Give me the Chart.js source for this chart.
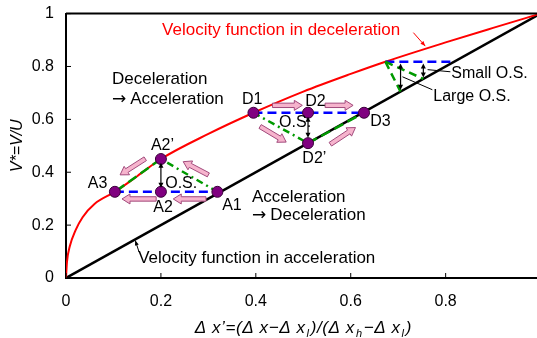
<!DOCTYPE html>
<html>
<head>
<meta charset="utf-8">
<script src="https://cdn.jsdelivr.net/npm/chart.js@4.4.1/dist/chart.umd.min.js"></script>
<style>
html, body { margin: 0; padding: 0; background: #fff; overflow: hidden; }
/* the plot runs past the right edge of the window, as in the original */
canvas { display: block; margin-top: -8px; }
</style>
</head>
<body>
<canvas id="chart" width="559" height="346"></canvas>
<script>
// Velocity function in acceleration (straight line)
const accelX = [0, 1];
const accelY = [0, 1];

// Velocity function in deceleration
const decelX = [0, 0.002, 0.008, 0.02, 0.035, 0.06, 0.103, 0.15, 0.2, 0.3, 0.395, 0.5, 0.6, 0.673, 0.8, 0.9, 1];
const decelY = [0, 0.06, 0.12, 0.18, 0.23, 0.28, 0.326, 0.385, 0.45, 0.545, 0.625, 0.705, 0.772, 0.818, 0.891, 0.946, 1];

// Acceleration -> deceleration cycle: A1, A2, A3, A2'
const aX = [0.319, 0.2, 0.103, 0.2];
const aY = [0.326, 0.326, 0.326, 0.45];

// Deceleration -> acceleration cycle: D1, D2, D3, D2'
const dX = [0.395, 0.51, 0.628, 0.51];
const dY = [0.625, 0.625, 0.625, 0.51];

// Overshoot sketch top right: start on curve, end of level line, large O.S., small O.S.
const osX = [0.673, 0.816, 0.705, 0.753];
const osY = [0.818, 0.818, 0.705, 0.753];

const tickValues = [0, 0.2, 0.4, 0.6, 0.8, 1];

// Pink direction arrows, [x1, y1, x2, y2] in data units
const flowArrows = [
    [0.435, 0.653, 0.498, 0.653],
    [0.546, 0.653, 0.605, 0.653],
    [0.409, 0.573, 0.464, 0.514],
    [0.557, 0.506, 0.610, 0.569],
    [0.295, 0.299, 0.226, 0.299],
    [0.190, 0.299, 0.118, 0.299],
    [0.300, 0.390, 0.247, 0.440],
    [0.167, 0.451, 0.114, 0.390]
];

// Overshoot double arrows, [x, yTop, yBottom]
const osArrows = [
    [0.2, 0.436, 0.341],
    [0.51, 0.61, 0.53],
    [0.705, 0.811, 0.712],
    [0.753, 0.811, 0.758]
];

// Leader lines, [x1, y1, x2, y2, arrowhead]
const leaders = [
    [0.732, 0.928, 0.757, 0.877, true],
    [0.154, 0.098, 0.146, 0.142, true],
    [0.810, 0.780, 0.762, 0.788, false],
    [0.772, 0.712, 0.709, 0.761, false]
];

// Text notes: text, x, y (baseline, left), colour, size
const notes = [
    ['Velocity function in deceleration', 0.2025, 0.92, '#ff0000', 17],
    ['Deceleration', 0.097, 0.733, '#000', 17],
    ['\u2192 Acceleration', 0.097, 0.659, '#000', 17],
    ['D1', 0.371, 0.659, '#000', 16],
    ['D2', 0.504, 0.652, '#000', 16],
    ['D3', 0.641, 0.576, '#000', 16],
    ['O.S.', 0.449, 0.572, '#000', 16],
    ['D2\u2019', 0.498, 0.436, '#000', 16],
    ['Small O.S.', 0.812, 0.758, '#000', 16],
    ['Large O.S.', 0.774, 0.670, '#000', 16],
    ['A2\u2019', 0.179, 0.485, '#000', 16],
    ['A3', 0.046, 0.341, '#000', 16],
    ['O.S.', 0.209, 0.341, '#000', 16],
    ['A2', 0.184, 0.25, '#000', 16],
    ['A1', 0.329, 0.258, '#000', 16],
    ['Acceleration', 0.392, 0.288, '#000', 17],
    ['\u2192 Deceleration', 0.392, 0.220, '#000', 17],
    ['Velocity function in acceleration', 0.152, 0.057, '#000', 17]
];

const xTitleParts = [
    ['\u0394 x\u2019=(\u0394 x\u2212\u0394 x', false], ['l', true],
    [')/(\u0394 x', false], ['h', true],
    ['\u2212\u0394 x', false], ['l', true], [')', false]
];

const FONT = "'Liberation Sans', Arial, sans-serif";
const BLUE = '#0000ff';
const GREEN = '#009a00';

const pts = (xs, ys, idx) => idx.map(i => ({ x: xs[i], y: ys[i] }));

function segment(data, color, dash, order) {
    return {
        data: data,
        showLine: true,
        borderColor: color,
        borderWidth: 2.5,
        borderDash: dash,
        pointRadius: 0,
        order: order
    };
}

function arrowHead(ctx, x, y, ang, len, half) {
    ctx.beginPath();
    ctx.moveTo(x, y);
    ctx.lineTo(x - len * Math.cos(ang) + half * Math.sin(ang), y - len * Math.sin(ang) - half * Math.cos(ang));
    ctx.lineTo(x - len * Math.cos(ang) - half * Math.sin(ang), y - len * Math.sin(ang) + half * Math.cos(ang));
    ctx.closePath();
    ctx.fill();
}

function blockArrow(ctx, x1, y1, x2, y2) {
    const len = Math.hypot(x2 - x1, y2 - y1);
    const ux = (x2 - x1) / len, uy = (y2 - y1) / len;
    const nx = -uy, ny = ux;
    const sw = 2.2, hw = 5, hl = 8;
    const bx = x2 - ux * hl, by = y2 - uy * hl;
    ctx.beginPath();
    ctx.moveTo(x1 + nx * sw, y1 + ny * sw);
    ctx.lineTo(bx + nx * sw, by + ny * sw);
    ctx.lineTo(bx + nx * hw, by + ny * hw);
    ctx.lineTo(x2, y2);
    ctx.lineTo(bx - nx * hw, by - ny * hw);
    ctx.lineTo(bx - nx * sw, by - ny * sw);
    ctx.lineTo(x1 - nx * sw, y1 - ny * sw);
    ctx.closePath();
    ctx.fillStyle = '#f6b4cd';
    ctx.fill();
    ctx.strokeStyle = '#a24a7c';
    ctx.lineWidth = 1;
    ctx.stroke();
}

const extras = {
    id: 'extras',
    afterDatasetsDraw(chart) {
        const { ctx, chartArea, scales: { x, y } } = chart;
        ctx.save();

        // top frame line
        ctx.strokeStyle = '#000';
        ctx.lineWidth = 2;
        ctx.beginPath();
        ctx.moveTo(chartArea.left, chartArea.top);
        ctx.lineTo(chartArea.right, chartArea.top);
        ctx.stroke();

        // inner ticks
        ctx.lineWidth = 1;
        tickValues.forEach(v => {
            const px = x.getPixelForValue(v);
            ctx.beginPath();
            ctx.moveTo(px, chartArea.bottom);
            ctx.lineTo(px, chartArea.bottom - 5);
            ctx.stroke();
            const py = y.getPixelForValue(v);
            ctx.beginPath();
            ctx.moveTo(chartArea.left, py);
            ctx.lineTo(chartArea.left + 5, py);
            ctx.stroke();
        });

        // pink flow arrows
        flowArrows.forEach(a => {
            blockArrow(ctx, x.getPixelForValue(a[0]), y.getPixelForValue(a[1]),
                x.getPixelForValue(a[2]), y.getPixelForValue(a[3]));
        });

        // overshoot double arrows
        ctx.strokeStyle = '#000';
        ctx.fillStyle = '#000';
        osArrows.forEach(a => {
            const px = x.getPixelForValue(a[0]);
            const top = y.getPixelForValue(a[1]);
            const bot = y.getPixelForValue(a[2]);
            ctx.lineWidth = 1.2;
            ctx.beginPath();
            ctx.moveTo(px, top + 3);
            ctx.lineTo(px, bot - 3);
            ctx.stroke();
            arrowHead(ctx, px, top, -Math.PI / 2, 5, 2.5);
            arrowHead(ctx, px, bot, Math.PI / 2, 5, 2.5);
        });

        // leader lines
        leaders.forEach((l, i) => {
            const x1 = x.getPixelForValue(l[0]), y1 = y.getPixelForValue(l[1]);
            const x2 = x.getPixelForValue(l[2]), y2 = y.getPixelForValue(l[3]);
            ctx.strokeStyle = i === 0 ? '#ff0000' : '#000';
            ctx.fillStyle = ctx.strokeStyle;
            ctx.lineWidth = 1;
            ctx.beginPath();
            ctx.moveTo(x1, y1);
            ctx.lineTo(x2, y2);
            ctx.stroke();
            if (l[4]) arrowHead(ctx, x2, y2, Math.atan2(y2 - y1, x2 - x1), 5, 2);
        });

        // text notes (arrow glyph drawn in DejaVu for a full-size arrow)
        ctx.textBaseline = 'alphabetic';
        ctx.textAlign = 'left';
        notes.forEach(n => {
            let px = x.getPixelForValue(n[1]);
            const py = y.getPixelForValue(n[2]);
            let text = n[0];
            ctx.fillStyle = n[3];
            if (text.startsWith('\u2192')) {
                ctx.font = n[4] + "px 'DejaVu Sans'";
                ctx.fillText('\u2192', px, py);
                px += ctx.measureText('\u2192').width + 4;
                text = text.slice(2);
            }
            ctx.font = n[4] + 'px ' + FONT;
            ctx.fillText(text, px, py);
        });

        // x axis title with subscripts
        const main = 'italic 17px ' + FONT;
        const sub = 'italic 11px ' + FONT;
        ctx.letterSpacing = '0.6px';
        let total = 0;
        xTitleParts.forEach(p => {
            ctx.font = p[1] ? sub : main;
            total += ctx.measureText(p[0]).width + (p[1] ? 2 : 0);
        });
        let cx = (chartArea.left + chartArea.right) / 2 - total / 2;
        const base = chartArea.bottom + 55;
        ctx.fillStyle = '#000';
        xTitleParts.forEach(p => {
            ctx.font = p[1] ? sub : main;
            ctx.fillText(p[0], cx + (p[1] ? 1 : 0), base + (p[1] ? 4 : 0));
            cx += ctx.measureText(p[0]).width + (p[1] ? 2 : 0);
        });
        ctx.letterSpacing = '0px';

        ctx.restore();
    }
};

const dots = pts(aX, aY, [0, 1, 2, 3]).concat(pts(dX, dY, [0, 1, 2, 3]));
const osStart = { x: osX[0], y: osY[0] };
const tickText = v => String(v);

new Chart(document.getElementById('chart').getContext('2d'), {
    type: 'scatter',
    data: {
        datasets: [
            {
                data: dots,
                pointRadius: 5.5,
                pointBackgroundColor: '#800080',
                pointBorderColor: '#3a003a',
                pointBorderWidth: 1,
                showLine: false,
                order: 0
            },
            segment([pts(aX, aY, [0])[0], pts(aX, aY, [3])[0]], GREEN, [7, 4, 2, 4], 1),
            segment([pts(dX, dY, [0])[0], pts(dX, dY, [3])[0]], GREEN, [7, 4, 2, 4], 1),
            segment(pts(aX, aY, [3, 2]), GREEN, [10, 5], 1),
            segment(pts(dX, dY, [3, 2]), GREEN, [10, 5], 1),
            segment([osStart, { x: osX[2], y: osY[2] }], GREEN, [8, 5], 1),
            segment([osStart, { x: osX[3], y: osY[3] }], GREEN, [8, 5], 1),
            segment(pts(aX, aY, [2, 0]), BLUE, [9, 5], 2),
            segment(pts(dX, dY, [0, 2]), BLUE, [9, 5], 2),
            segment([osStart, { x: osX[1], y: osY[1] }], BLUE, [9, 5], 2),
            {
                data: pts(decelX, decelY, decelX.map((_, i) => i)),
                showLine: true,
                borderColor: '#ff0000',
                borderWidth: 2,
                pointRadius: 0,
                cubicInterpolationMode: 'monotone',
                order: 3
            },
            {
                data: pts(accelX, accelY, [0, 1]),
                showLine: true,
                borderColor: '#000',
                borderWidth: 2.5,
                pointRadius: 0,
                order: 4
            }
        ]
    },
    options: {
        responsive: false,
        animation: false,
        layout: { padding: 0 },
        plugins: {
            legend: { display: false },
            tooltip: { enabled: false }
        },
        scales: {
            x: {
                type: 'linear',
                min: 0,
                max: 1,
                afterFit: s => { s.height = 60; },
                afterBuildTicks: s => { s.ticks = tickValues.map(v => ({ value: v })); },
                grid: { display: false, drawTicks: false },
                border: { color: '#000', width: 2 },
                ticks: { padding: 14, color: '#000', font: { family: FONT, size: 16 }, callback: tickText }
            },
            y: {
                type: 'linear',
                min: 0,
                max: 1,
                afterFit: s => { s.width = 66; },
                afterBuildTicks: s => { s.ticks = tickValues.map(v => ({ value: v })); },
                grid: { display: false, drawTicks: false },
                border: { color: '#000', width: 2 },
                ticks: { padding: 12, color: '#000', font: { family: FONT, size: 16 }, callback: tickText },
                title: {
                    display: true,
                    text: 'V*=V/U',
                    color: '#000',
                    font: { family: FONT, size: 16, style: 'italic' },
                    padding: { top: 8, bottom: 0 }
                }
            }
        }
    },
    plugins: [extras]
});
</script>
</body>
</html>
